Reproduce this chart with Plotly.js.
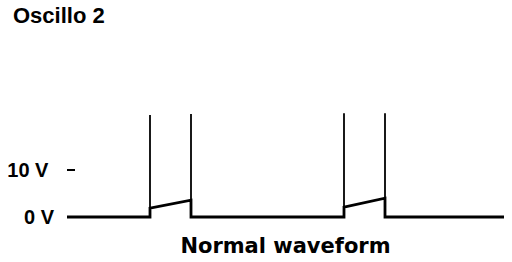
<!DOCTYPE html>
<html>
<head>
<meta charset="utf-8">
<script src="https://cdn.plot.ly/plotly-3.0.1.min.js"></script>
<style>html,body{margin:0;padding:0;background:#fff;}#chart{width:512px;height:262px;}</style>
</head>
<body>
<div id="chart"></div>
<script>
// waveform (time in arbitrary units, voltage in V)
const waveT = [0, 83, 83, 124, 124, 277, 277, 318, 318, 437];
const waveV = [0, 0, 1.9, 3.6, 0, 0, 2.1, 4.0, 0, 0];
// ignition spikes
const spikeT = [83, 83, null, 124, 124, null, 277, 277, null, 318, 318];
const spikeV = [0, 21.7, null, 0, 21.9, null, 0, 22.1, null, 0, 22.1];
// axis labels
const tickVals = [0, 10];
const tickText = ["0 V", "10 V&nbsp;"];

const fam = "Liberation Sans, Arial, sans-serif";

const traces = [
  {x: spikeT, y: spikeV, mode: "lines", line: {color: "#000", width: 1.8}, hoverinfo: "skip", connectgaps: false},
  {x: waveT, y: waveV, mode: "lines", line: {color: "#000", width: 2.8}, hoverinfo: "skip"}
];

const layout = {
  width: 512, height: 262,
  margin: {l: 67, r: 8, t: 110, b: 36},
  paper_bgcolor: "#fff", plot_bgcolor: "#fff",
  showlegend: false,
  font: {family: fam, color: "#000", size: 21},
  title: {text: "<b>Oscillo 2</b>", font: {family: fam, size: 22, color: "#000"},
          xref: "container", yref: "container", x: 13/512, xanchor: "left", y: 1 - 15/262, yanchor: "middle"},
  xaxis: {range: [0, 437], showgrid: false, zeroline: false, showline: false, ticks: "", showticklabels: false,
          title: {text: "<b>Normal waveform</b>", font: {family: "DejaVu Sans, sans-serif", size: 21, color: "#000"}, standoff: 12}},
  yaxis: {range: [-1.915, 22.77], showgrid: false, zeroline: false, showline: false,
          tickvals: tickVals, ticktext: tickText.map(t => "<b>" + t + "</b>"),
          ticks: "inside", ticklen: 8, tickwidth: 2, tickcolor: "#000", ticklabelstandoff: 12,
          tickfont: {family: fam, size: 20, color: "#000"}}
};

Plotly.newPlot("chart", traces, layout, {staticPlot: true, displayModeBar: false});
</script>
</body>
</html>
